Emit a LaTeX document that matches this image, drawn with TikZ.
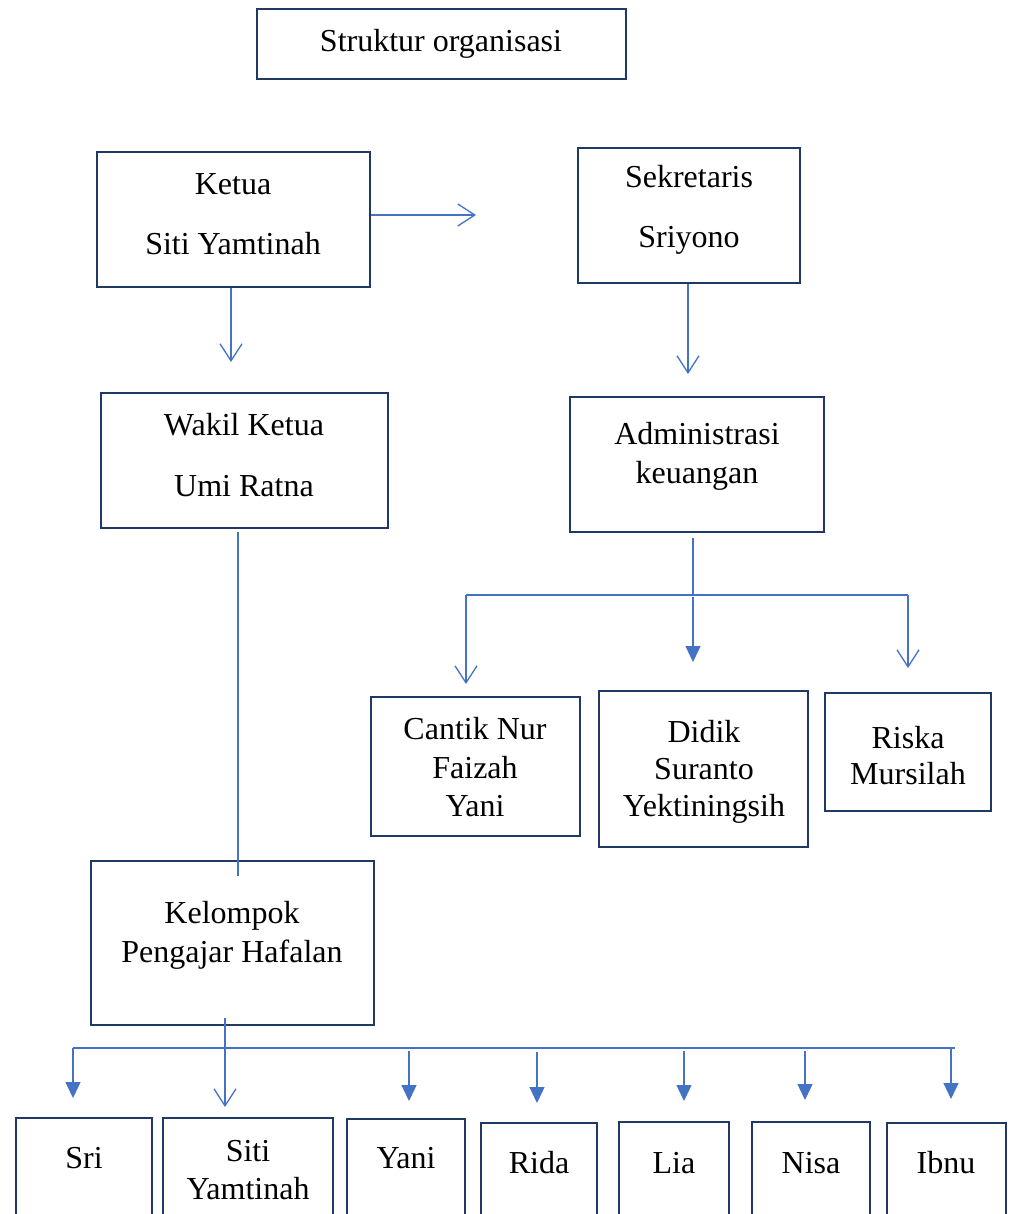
\documentclass[tikz,border=0pt]{standalone}
\usepackage{fontspec}
\setmainfont{Liberation Serif}
\usetikzlibrary{arrows.meta}
\definecolor{boxc}{HTML}{203864}
\definecolor{linec}{HTML}{4472C4}
\tikzset{
  box/.style={draw=boxc, line width=2.5pt, inner sep=0pt, rectangle},
  lbl/.style={inner sep=0pt, align=center, font=\fontsize{32}{#1}\selectfont},
  lbl/.default=38,
  conn/.style={draw=linec, line width=1.3pt},
  openhead/.style={conn, -{Straight Barb[length=17pt,width=22pt,line width=1.3pt]}},
  fillhead/.style={conn, -{Triangle[length=16pt,width=15pt]}},
}
\begin{document}
\begin{tikzpicture}[x=1pt,y=-1pt]
\useasboundingbox (0,0) rectangle (1014,1214);
\clip (0,0) rectangle (1014,1214);
\fill[white] (0,0) rectangle (1014,1214);
% boxes
\node[box, minimum width=369pt, minimum height=70pt] (title) at (441.5,44) {};
\node[box, minimum width=273pt, minimum height=135pt] (ketua) at (233.5,219.5) {};
\node[box, minimum width=222pt, minimum height=135pt] (sekr) at (689,215.5) {};
\node[box, minimum width=287pt, minimum height=135pt] (wakil) at (244.5,460.5) {};
\node[box, minimum width=254pt, minimum height=135pt] (admin) at (697,464.5) {};
\node[box, minimum width=209pt, minimum height=139pt] (cantik) at (475.5,766.5) {};
\node[box, minimum width=209pt, minimum height=156pt] (didik) at (703.5,769) {};
\node[box, minimum width=166pt, minimum height=118pt] (riska) at (908,752) {};
\node[box, minimum width=283pt, minimum height=164pt] (kel) at (232.5,943) {};
\node[box, minimum width=136pt, minimum height=122pt] (sri) at (84,1179) {};
\node[box, minimum width=170pt, minimum height=122pt] (siti) at (248,1179) {};
\node[box, minimum width=118pt, minimum height=121pt] (yani) at (406,1179.5) {};
\node[box, minimum width=116pt, minimum height=117pt] (rida) at (539,1181.5) {};
\node[box, minimum width=110pt, minimum height=118pt] (lia) at (674,1181) {};
\node[box, minimum width=118pt, minimum height=118pt] (nisa) at (811,1181) {};
\node[box, minimum width=119pt, minimum height=117pt] (ibnu) at (946.5,1181.5) {};
% labels
\node[lbl] (ttitle) at (441,44) {Struktur organisasi};
\node[lbl=60] (tketua) at (233,214) {Ketua\\Siti Yamtinah};
\node[lbl=60] (tsekr) at (689,210) {Sekretaris\\Sriyono};
\node[lbl=61] (twakil) at (244,455.5) {Wakil Ketua\\Umi Ratna};
\node[lbl=39] (tadmin) at (697,456.5) {Administrasi\\keuangan};
\node[lbl=38.5] (tcantik) at (475,767.5) {Cantik Nur\\Faizah\\Yani};
\node[lbl=37] (tdidik) at (704,772) {Didik\\Suranto\\Yektiningsih};
\node[lbl=36] (triska) at (908,756) {Riska\\Mursilah};
\node[lbl=39] (tkel) at (232,935.5) {Kelompok\\Pengajar Hafalan};
\node[lbl] (tsri) at (84,1158) {Sri};
\node[lbl=38] (tsiti) at (248,1170) {Siti\\Yamtinah};
\node[lbl] (tyani) at (406,1158) {Yani};
\node[lbl] (trida) at (539,1163) {Rida};
\node[lbl] (tlia) at (674,1163) {Lia};
\node[lbl] (tnisa) at (811,1163) {Nisa};
\node[lbl] (tibnu) at (946,1163) {Ibnu};
% coordinates
\coordinate (tipA) at (476,215);
\coordinate (tipB) at (231,362);
\coordinate (tipC) at (688,374);
\coordinate (j1) at (693,595);
\coordinate (hL) at (466,595);
\coordinate (hR) at (908,595);
\coordinate (t1) at (466,684);
\coordinate (t2) at (693,662);
\coordinate (t3) at (908,668);
\coordinate (k1) at (238,876);
\coordinate (kv) at (225,1018);
\coordinate (bL) at (73,1048);
\coordinate (bR) at (955,1048);
\coordinate (b1) at (73,1098);
\coordinate (b2) at (225,1107);
\coordinate (b3) at (409,1101);
\coordinate (b4) at (537,1103);
\coordinate (b5) at (684,1101);
\coordinate (b6) at (805,1100);
\coordinate (b7) at (951,1099);
% connectors
\draw[openhead] (ketua.east |- tipA) -- (tipA);
\draw[openhead] (ketua.south -| tipB) -- (tipB);
\draw[openhead] (sekr.south -| tipC) -- (tipC);
\draw[conn] ([yshift=-5pt]admin.south -| j1) -- (j1);
\draw[conn] (hL) -- (hR);
\draw[openhead] (hL) -- (t1);
\draw[fillhead] ([yshift=-2pt]j1) -- (t2);
\draw[openhead] (hR) -- (t3);
\draw[conn] ([yshift=-3pt]wakil.south -| k1) -- (k1);
\draw[conn] (bL) -- (bR);
\draw[openhead] (kv) -- (b2);
\draw[fillhead] (bL) -- (b1);
\draw[fillhead] ([yshift=-3pt]bL -| b3) -- (b3);
\draw[fillhead] ([yshift=-4pt]bL -| b4) -- (b4);
\draw[fillhead] ([yshift=-3pt]bL -| b5) -- (b5);
\draw[fillhead] ([yshift=-3pt]bL -| b6) -- (b6);
\draw[fillhead] (bR -| b7) -- (b7);
\end{tikzpicture}
\end{document}
